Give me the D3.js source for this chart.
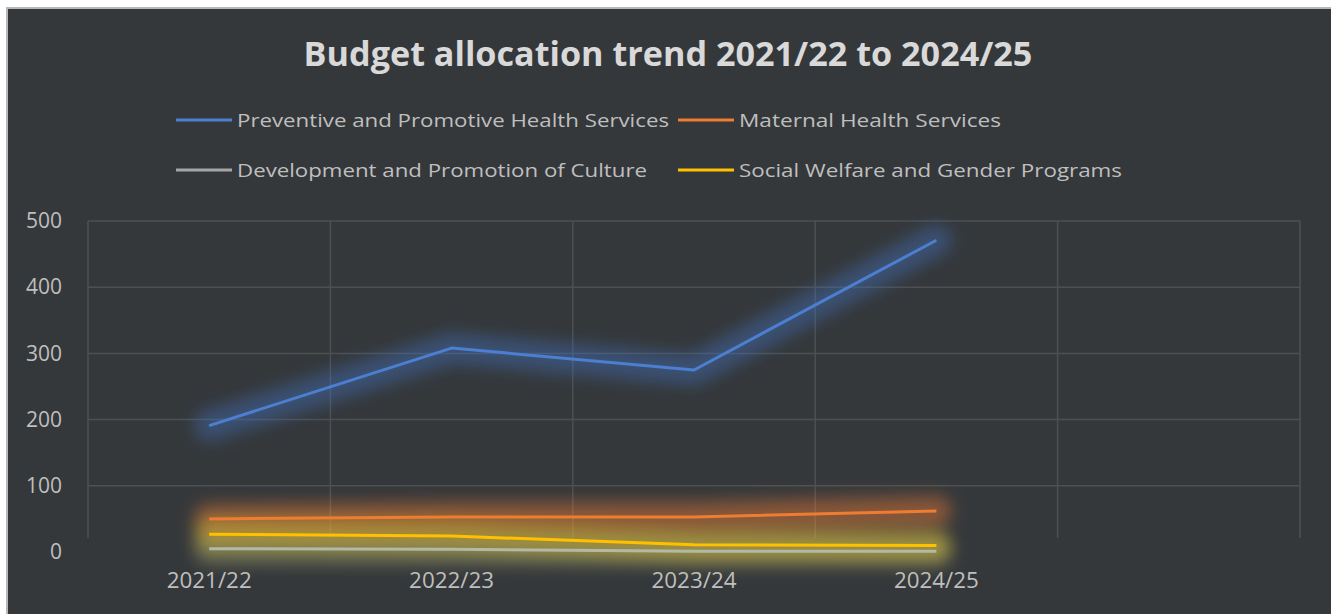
<!DOCTYPE html>
<html>
<head>
<meta charset="utf-8">
<script src="https://cdn.jsdelivr.net/npm/d3@7"></script>
<style>
  html, body { margin: 0; padding: 0; background: #ffffff; overflow: hidden; }
  svg { display: block; }
</style>
</head>
<body>
<div class="linechart"></div>
<script>
// values (budget, millions)
const years = ['2021/22', '2022/23', '2023/24', '2024/25', '']
const seriesNames = [
  'Preventive and Promotive Health Services',
  'Maternal Health Services',
  'Development and Promotion of Culture',
  'Social Welfare and Gender Programs'
]
const preventive = [191, 308, 275, 471]
const maternal = [50, 53, 53, 62]
const culture = [5, 4, 1, 1]
const welfare = [27, 24, 11, 10]
const yTicks = [0, 100, 200, 300, 400, 500]

const colors = ['#4a7fd2', '#ee7d31', '#b4b9a6', '#ffc000']
const glowColors = ['#3d6fb8', '#ee7d31', '#a3a86a', '#e0c030']

const width = 1331
const height = 614
const margin = {top: 221, right: 31, bottom: 62, left: 88}
const graphWidth = width - margin.left - margin.right
const graphHeight = height - margin.top - margin.bottom

const data = seriesNames.map((name, i) => ({
  name: name,
  color: colors[i],
  glow: glowColors[i],
  values: [preventive, maternal, culture, welfare][i]
}))

const svg = d3.select('.linechart')
  .append('svg')
  .attr('width', width)
  .attr('height', height)

// glow effect like the spreadsheet style
const defs = svg.append('defs')
defs.append('filter')
  .attr('id', 'glow')
  .attr('x', '-20%').attr('y', '-80%')
  .attr('width', '140%').attr('height', '260%')
  .append('feGaussianBlur')
  .attr('stdDeviation', 8)

// dark chart area with a light frame
svg.append('rect')
  .attr('x', 7).attr('y', 8)
  .attr('width', width).attr('height', height)
  .attr('fill', '#35383b')
  .attr('stroke', '#b8b8b8')
  .attr('stroke-width', 2)

svg.append('text')
  .attr('class', 'title')
  .attr('x', 668)
  .attr('y', 66)
  .attr('text-anchor', 'middle')
  .attr('fill', '#d9d9d9')
  .attr('font-family', 'Open Sans')
  .attr('font-weight', 'bold')
  .attr('font-size', '29px')
  .text('Budget allocation trend 2021/22 to 2024/25')

// fit the title to the width it takes in the picture
const titleNode = svg.select('.title').node()
const tw = titleNode.getComputedTextLength()
svg.select('.title').attr('font-size', (29 * 729 / tw) + 'px')

const graph = svg.append('g')
  .attr('transform', `translate(${margin.left}, ${margin.top})`)

const xScale = d3.scaleBand()
  .domain(years)
  .range([0, graphWidth])

const yScale = d3.scaleLinear()
  .domain([0, 500])
  .range([graphHeight, 0])

// grid
graph.append('g')
  .selectAll('line')
  .data(yTicks.filter(d => d > 0))
  .enter()
  .append('line')
  .attr('x1', 0)
  .attr('x2', graphWidth)
  .attr('y1', d => yScale(d))
  .attr('y2', d => yScale(d))
  .attr('stroke', '#4d5053')
  .attr('stroke-width', 1.5)

const xEdges = years.map(d => xScale(d)).concat([graphWidth])
graph.append('g')
  .selectAll('line')
  .data(xEdges)
  .enter()
  .append('line')
  .attr('x1', d => d)
  .attr('x2', d => d)
  .attr('y1', 0)
  .attr('y2', graphHeight - 14)
  .attr('stroke', '#4d5053')
  .attr('stroke-width', 1.5)

// axes (text only)
const yAxis = d3.axisLeft(yScale)
  .tickValues(yTicks)
  .tickSize(0)
  .tickPadding(26)

const xAxis = d3.axisBottom(xScale)
  .tickSize(0)
  .tickPadding(21)

const yAxisGroup = graph.append('g').call(yAxis)
const xAxisGroup = graph.append('g')
  .attr('transform', `translate(0, ${graphHeight})`)
  .call(xAxis)

yAxisGroup.select('.domain').remove()
xAxisGroup.select('.domain').remove()

svg.selectAll('.tick text')
  .attr('fill', '#bfbfbf')
  .attr('font-family', 'Open Sans')
  .attr('font-size', '21px')

xAxisGroup.selectAll('text')
  .attr('textLength', d => d ? 85 : null)
  .attr('lengthAdjust', 'spacingAndGlyphs')

const line = d3.line()
  .x((d, i) => xScale(years[i]) + xScale.bandwidth() / 2)
  .y(d => yScale(d))

// glow under each line
graph.append('g')
  .attr('filter', 'url(#glow)')
  .selectAll('path')
  .data(data)
  .enter()
  .append('path')
  .attr('d', d => line(d.values))
  .attr('fill', 'none')
  .attr('stroke', d => d.glow)
  .attr('stroke-width', 30)
  .attr('stroke-opacity', 0.45)
  .attr('stroke-linejoin', 'round')
  .attr('stroke-linecap', 'round')

graph.append('g')
  .selectAll('path')
  .data(data)
  .enter()
  .append('path')
  .attr('d', d => line(d.values))
  .attr('fill', 'none')
  .attr('stroke', d => d.color)
  .attr('stroke-width', 3)
  .attr('stroke-linejoin', 'round')

// legend, two rows
const legendPos = [[176, 120], [678, 120], [176, 170], [678, 170]]
const legendWidths = [432, 262, 410, 383]
const legend = svg.append('g')
  .selectAll('g')
  .data(data)
  .enter()
  .append('g')
  .attr('transform', (d, i) => `translate(${legendPos[i][0]}, ${legendPos[i][1]})`)

legend.append('line')
  .attr('x1', 0)
  .attr('x2', 56)
  .attr('stroke', d => d.color === '#b4b9a6' ? '#a5a5a5' : d.color)
  .attr('stroke-width', 3)

legend.append('text')
  .attr('x', 61)
  .attr('dy', '.35em')
  .attr('fill', '#bfbfbf')
  .attr('font-family', 'Open Sans')
  .attr('font-size', '19px')
  .attr('textLength', (d, i) => legendWidths[i])
  .attr('lengthAdjust', 'spacingAndGlyphs')
  .text(d => d.name)
</script>
</body>
</html>
